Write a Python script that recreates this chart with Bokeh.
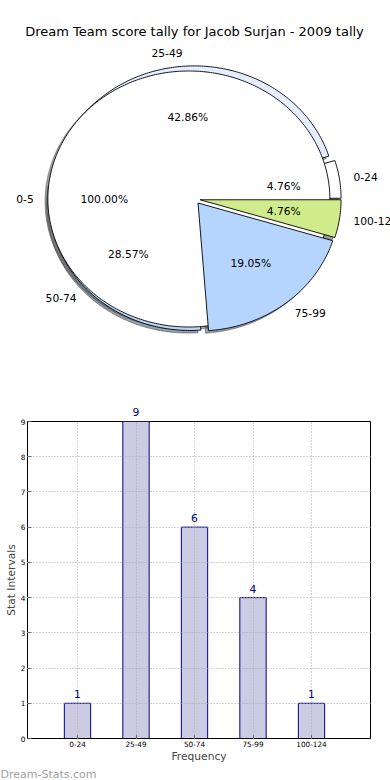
import numpy as np
from bokeh.plotting import figure
from bokeh.models import ColumnDataSource, Range1d, LabelSet, Label, FixedTicker, LinearAxis, Title
from bokeh.embed import file_html
from bokeh.resources import INLINE
from bokeh.core.properties import value

# ---------------- data ----------------
title_text = "Dream Team score tally for Jacob Surjan - 2009 tally"
categories = ["0-24", "25-49", "50-74", "75-99", "100-124"]
counts = [1, 9, 6, 4, 1]
outer_categories = ["0-5"]
outer_counts = [1]
wedge_colors = ["#ffffff", "#e6edff", "#b5d5fd", "#b5d5ff", "#d0eb8b"]
outer_colors = ["#ffffff"]
explode = [0.04, 0.04, 0.04, 0.04, 0.04]
outer_explode = [0.04]
y_ticks = [0, 1, 2, 3, 4, 5, 6, 7, 8, 9]
x_label = "Frequency"
y_label = "Stat Intervals"
watermark = "Dream-Stats.com"
bar_fill = "#cbcbe4"
bar_line = "#000080"

FONT = "DejaVu Sans"
W = 390

# ---------------- pie geometry helpers ----------------
def pie_geometry(vals, expl):
    fr = np.array(vals, float) / float(sum(vals))
    ends = np.cumsum(fr) * 2 * np.pi
    starts = ends - fr * 2 * np.pi
    mids = (starts + ends) / 2
    cx = np.array(expl) * np.cos(mids)
    cy = np.array(expl) * np.sin(mids)
    return fr, starts, ends, mids, cx, cy

def wedge_xy(t1, t2, cx, cy, full=False, dx=0.0, dy=0.0):
    n = max(int((t2 - t1) / (2 * np.pi) * 400), 10)
    t = np.linspace(t1, t2, n)
    xs = cx + np.cos(t)
    ys = cy + np.sin(t)
    if not full:
        xs = np.concatenate([[cx], xs])
        ys = np.concatenate([[cy], ys])
    return list(xs + dx), list(ys + dy)

def shade(c):
    r, g, b = int(c[1:3], 16), int(c[3:5], 16), int(c[5:7], 16)
    return "#%02x%02x%02x" % (int(0.3 * r), int(0.3 * g), int(0.3 * b))

# ---------------- pie figure ----------------
PX, PY = 141.0, 128.0       # pixels per unit radius
CXP, CYP = 194.0, 198.5     # pie centre inside the figure (px)
H1 = 396
p1 = figure(width=W, height=H1, output_backend="svg", toolbar_location=None,
            x_range=Range1d(-CXP / PX, (W - CXP) / PX),
            y_range=Range1d(-(H1 - CYP) / PY, CYP / PY),
            x_axis_type=None, y_axis_type=None, min_border=0)
p1.outline_line_color = None
p1.background_fill_color = "white"

fr, st, en, md, cx, cy = pie_geometry(counts, explode)
ofr, ost, oen, omd, ocx, ocy = pie_geometry(outer_counts, outer_explode)

# shadows (all below)
sh_xs, sh_ys, sh_c = [], [], []
for i in range(len(counts)):
    xs, ys = wedge_xy(st[i], en[i], cx[i], cy[i], dx=-0.02, dy=-0.02)
    sh_xs.append(xs); sh_ys.append(ys); sh_c.append(shade(wedge_colors[i]))
for i in range(len(outer_counts)):
    xs, ys = wedge_xy(ost[i], oen[i], ocx[i], ocy[i], full=True, dx=-0.02, dy=-0.02)
    sh_xs.append(xs); sh_ys.append(ys); sh_c.append(shade(outer_colors[i]))
p1.patches(xs=sh_xs, ys=sh_ys, fill_color=sh_c, fill_alpha=0.5,
           line_color=sh_c, line_alpha=0.5, line_width=1)

def draw_wedges(idx):
    xs_l, ys_l, cl = [], [], []
    for i in idx:
        xs, ys = wedge_xy(st[i], en[i], cx[i], cy[i])
        xs_l.append(xs); ys_l.append(ys); cl.append(wedge_colors[i])
    p1.patches(xs=xs_l, ys=ys_l, fill_color=cl, line_color="black", line_width=0.9)

draw_wedges([0, 1, 2])
oxs, oys = [], []
for i in range(len(outer_counts)):
    xs, ys = wedge_xy(ost[i], oen[i], ocx[i], ocy[i], full=True)
    oxs.append(xs); oys.append(ys)
p1.patches(xs=oxs, ys=oys, fill_color=outer_colors, line_color="black", line_width=0.9)
draw_wedges([3, 4])

# labels
lab_l = {"x": [], "y": [], "t": []}
lab_r = {"x": [], "y": [], "t": []}
pct = {"x": [], "y": [], "t": []}
def add_labels(names, fracs, mids, cxs, cys):
    for n, f, m, x0_, y0_ in zip(names, fracs, mids, cxs, cys):
        xt = x0_ + 1.1 * np.cos(m)
        yt = y0_ + 1.1 * np.sin(m)
        d = lab_l if xt > 0 else lab_r
        d["x"].append(xt); d["y"].append(yt); d["t"].append(n)
        pct["x"].append(x0_ + 0.6 * np.cos(m))
        pct["y"].append(y0_ + 0.6 * np.sin(m))
        pct["t"].append("%.2f%%" % (100 * f))
add_labels(categories, fr, md, cx, cy)
add_labels(outer_categories, ofr, omd, ocx, ocy)

common = dict(text_font=value(FONT), text_font_size="10.7px", text_color="black",
              text_baseline="middle")
p1.text(x="x", y="y", text="t", source=ColumnDataSource(lab_l), text_align="left", **common)
p1.text(x="x", y="y", text="t", source=ColumnDataSource(lab_r), text_align="right", **common)
p1.text(x="x", y="y", text="t", source=ColumnDataSource(pct), text_align="center", **common)

p1.add_layout(Label(x=0, y=(CYP - 30.5) / PY, text=title_text, text_align="center",
                    text_baseline="middle", text_font=FONT, text_font_size="13px",
                    text_color="black"))

# ---------------- bar figure ----------------
H2 = 780 - H1
BL, BR, BT, BB = 27, 20, 421 - H1, 40
x_idx = list(range(len(categories)))
XPX = 58.5
x0 = -(77.0 - BL) / XPX
x1 = x0 + (W - BL - BR) / XPX
y_max = max(y_ticks)
p2 = figure(width=W, height=H2, output_backend="svg", toolbar_location=None,
            x_range=Range1d(x0, x1), y_range=Range1d(0, y_max),
            min_border_left=BL, min_border_right=BR, min_border_top=BT, min_border_bottom=BB)
p2.background_fill_color = "white"
p2.outline_line_color = "black"
p2.outline_line_width = 1

src = ColumnDataSource(dict(x=x_idx, top=counts, lab=[str(c) for c in counts]))
p2.vbar(x="x", top="top", width=0.45, source=src, fill_color=bar_fill,
        line_color=bar_line, line_width=1)

tick_col = "#555555"
xa = p2.below[0]
ya = p2.left[0]
xa.ticker = FixedTicker(ticks=x_idx)
ya.ticker = FixedTicker(ticks=y_ticks)
for ax in (xa, ya):
    ax.major_tick_in = 4
    ax.major_tick_out = 0
    ax.minor_tick_in = 0
    ax.minor_tick_out = 0
    ax.major_tick_line_color = tick_col
    ax.axis_line_color = "black"
    ax.major_label_text_font = FONT
    ax.major_label_text_font_size = "7.3px"
    ax.major_label_text_color = "black"
xa.major_label_overrides = {i: c for i, c in zip(x_idx, categories)}
xa.major_label_standoff = 2
xa.axis_label = x_label
xa.axis_label_text_font = FONT
xa.axis_label_text_font_size = "10.7px"
xa.axis_label_text_font_style = "normal"
xa.axis_label_standoff = 0
ya.major_label_standoff = 2
ya.axis_label = y_label
ya.axis_label_text_font = FONT
ya.axis_label_text_font_size = "10.7px"
ya.axis_label_text_font_style = "normal"
ya.axis_label_standoff = 0

# value labels: inside the frame as a LabelSet, those at the frame top via a top axis
inside = [i for i, c in enumerate(counts) if c < y_max]
at_top = [i for i, c in enumerate(counts) if c >= y_max]
src_in = ColumnDataSource(dict(x=[x_idx[i] for i in inside], top=[counts[i] for i in inside],
                               lab=[str(counts[i]) for i in inside]))
p2.add_layout(LabelSet(x="x", y="top", text="lab", source=src_in, y_offset=5,
                       text_align="center", text_baseline="alphabetic",
                       text_font=value(FONT), text_font_size="10.7px", text_color="#000080"))
if at_top:
    ta = LinearAxis(ticker=FixedTicker(ticks=[x_idx[i] for i in at_top]),
                    major_label_overrides={x_idx[i]: str(counts[i]) for i in at_top},
                    major_label_text_color="#000080", major_label_text_font=FONT,
                    major_label_text_font_size="10.7px", major_label_standoff=6,
                    major_tick_in=0, major_tick_out=0, minor_tick_in=0, minor_tick_out=0,
                    axis_line_color=None)
    p2.add_layout(ta, "above")

p2.xgrid.ticker = FixedTicker(ticks=x_idx)
p2.ygrid.ticker = FixedTicker(ticks=y_ticks)
p2.grid.grid_line_color = "#a8a8a8"
p2.grid.grid_line_dash = "1 2"
p2.grid.grid_line_width = 1
p2.grid.level = "guide"

p2.add_layout(Title(text=watermark, align="left", offset=-BL, standoff=0,
                    text_font=FONT, text_font_size="11px", text_font_style="normal",
                    text_color="#a0a0a0"), "below")

open("out.html", "w").write(file_html([p1, p2], INLINE))
